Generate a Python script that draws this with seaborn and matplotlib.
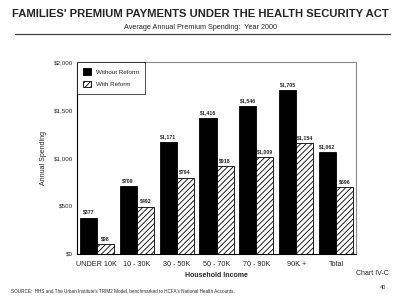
import matplotlib
matplotlib.use("Agg")
import matplotlib.pyplot as plt
import seaborn as sns
import pandas as pd

# data
groups = ["UNDER 10K", "10 - 30K", "30 - 50K", "50 - 70K", "70 - 90K", "90K +", "Total"]
without_reform = [377, 709, 1171, 1416, 1546, 1705, 1062]
with_reform = [98, 492, 794, 918, 1009, 1154, 696]
series = ["Without Reform", "With Reform"]

df = pd.DataFrame({
    "group": groups * 2,
    "value": without_reform + with_reform,
    "series": [series[0]] * len(groups) + [series[1]] * len(groups),
})

sns.set_theme(style="white")
plt.rcParams["font.family"] = ["Liberation Sans", "DejaVu Sans"]
plt.rcParams["hatch.linewidth"] = 0.6

fig = plt.figure(figsize=(4, 3.04), dpi=100)
ax = fig.add_axes([0.1925, 0.165, 0.6975, 0.631])

sns.barplot(data=df, x="group", y="value", hue="series", order=groups,
            hue_order=series, palette=["black", "white"], width=0.86,
            edgecolor="black", linewidth=0.6, ax=ax, legend=True)

for bar in ax.containers[1]:
    bar.set_hatch("//////")

def money(v):
    return "${:,.0f}".format(v)

for cont, vals in zip(ax.containers, [without_reform, with_reform]):
    ax.bar_label(cont, labels=[money(v) for v in vals], padding=2, fontsize=3.8,
                 fontweight="bold")

ax.set_ylim(0, 2000)
ax.set_xlim(-0.5, 6.5)
ax.set_yticks([0, 500, 1000, 1500, 2000])
ax.set_yticklabels([money(v) for v in [0, 500, 1000, 1500, 2000]], fontsize=4.5)
ax.tick_params(axis="y", length=0, pad=3)
ax.tick_params(axis="x", length=0, labelsize=5.2, pad=5)
ax.set_xlabel("Household Income", fontsize=5, fontweight="bold", labelpad=3)
ax.set_ylabel("Annual Spending", fontsize=5, labelpad=5)
for s in ["top", "right"]:
    ax.spines[s].set_color("#888888")
for s in ["left", "bottom"]:
    ax.spines[s].set_color("black")
for s in ax.spines.values():
    s.set_linewidth(0.8)

leg = ax.legend(loc="upper left", fontsize=4.5, frameon=True, fancybox=False,
                edgecolor="black", borderaxespad=0, handlelength=1.2,
                handleheight=1.2, borderpad=1.0, labelspacing=1.0)
leg.get_frame().set_linewidth(0.6)
leg.legend_handles[1].set_hatch("//////")

fig.text(0.5, 0.945, "FAMILIES' PREMIUM PAYMENTS UNDER THE HEALTH SECURITY ACT",
         ha="center", fontsize=8.1, fontweight="bold")
fig.text(0.5, 0.905, "Average Annual Premium Spending:  Year 2000",
         ha="center", fontsize=5.2)
fig.add_artist(plt.Line2D([0.037, 0.975], [0.888, 0.888], color="#444444", lw=0.9))
fig.text(0.932, 0.095, "Chart IV-C", ha="center", fontsize=5)
fig.text(0.028, 0.04, "SOURCE:  HHS and The Urban Institute's TRIM2 Model, benchmarked to HCFA's National Health Accounts.",
         fontsize=3.3)
fig.text(0.957, 0.05, "40", ha="center", fontsize=4)

fig.savefig("out.png", dpi=100, facecolor="white")
